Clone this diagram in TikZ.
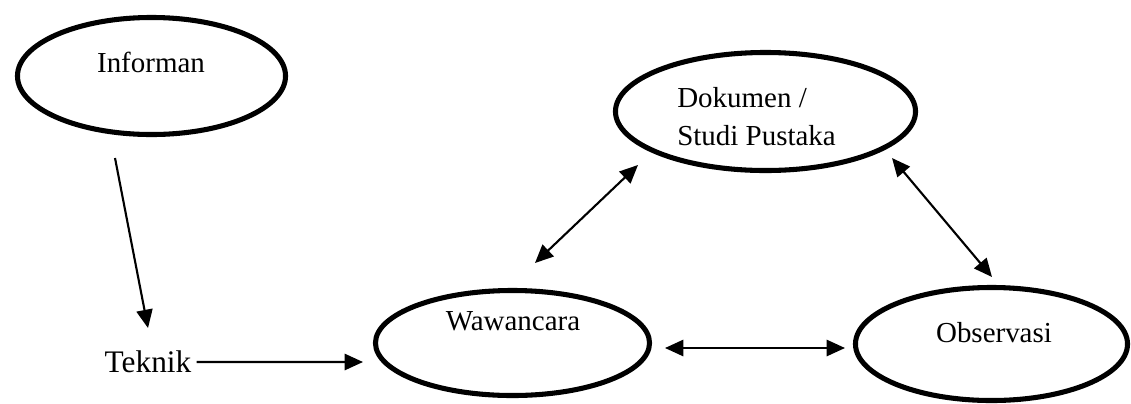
\documentclass[tikz,border=0pt]{standalone}
\usepackage{fontspec}
\setmainfont{Liberation Serif}
\usetikzlibrary{arrows.meta,shapes.geometric}
\begin{document}
\begin{tikzpicture}[x=0.025cm,y=-0.025cm,
    oval/.style={draw,ellipse,line width=3.6pt,inner sep=0pt},
    txt/.style={anchor=base,inner sep=0pt,font=\fontsize{20.6}{27}\selectfont},
    link/.style={line width=1.5pt,-{Triangle[length=13pt,width=11.5pt]}},
    dlink/.style={line width=1.5pt,{Triangle[length=13pt,width=11.5pt]}-{Triangle[length=13pt,width=11.5pt]}}]
    \useasboundingbox (0,0) rectangle (1131,403);
    % ellipses
    \node[oval,minimum width=6.7cm,minimum height=2.925cm] (inf) at (151.5,76) {};
    \node[oval,minimum width=7.5cm,minimum height=2.95cm] (dok) at (765.5,111.5) {};
    \node[oval,minimum width=6.85cm,minimum height=2.625cm] (waw) at (512.5,343) {};
    \node[oval,minimum width=6.8cm,minimum height=2.825cm] (obs) at (991.5,344) {};
    % texts
    \node[txt] (infT) at (151,72) {Informan};
    \node[txt,anchor=base west,align=left] (dokT) at (677,145) {Dokumen /\\Studi Pustaka};
    \node[txt] (wawT) at (513,330) {Wawancara};
    \node[txt] (obsT) at (994,342) {Observasi};
    \node[txt,font=\fontsize{22.3}{27}\selectfont] (tek) at (148,372) {Teknik};
    % arrow ends
    \coordinate (infA) at (115,158);
    \coordinate (tekA) at (148,328);
    \coordinate (wawL) at (363,362);
    \coordinate (wawU) at (535,263);
    \coordinate (dokL) at (638,165);
    \coordinate (dokR) at (892,158);
    \coordinate (obsU) at (992,277);
    \coordinate (wawR) at (665,348);
    \coordinate (obsL) at (845,348);
    \draw[link] (infA) -- (tekA);
    \draw[link] ([xshift=3.5pt,yshift=7.1pt]tek.base east) -- (wawL);
    \draw[dlink] (wawU) -- (dokL);
    \draw[dlink] (dokR) -- (obsU);
    \draw[dlink] (wawR) -- (obsL);
\end{tikzpicture}
\end{document}
